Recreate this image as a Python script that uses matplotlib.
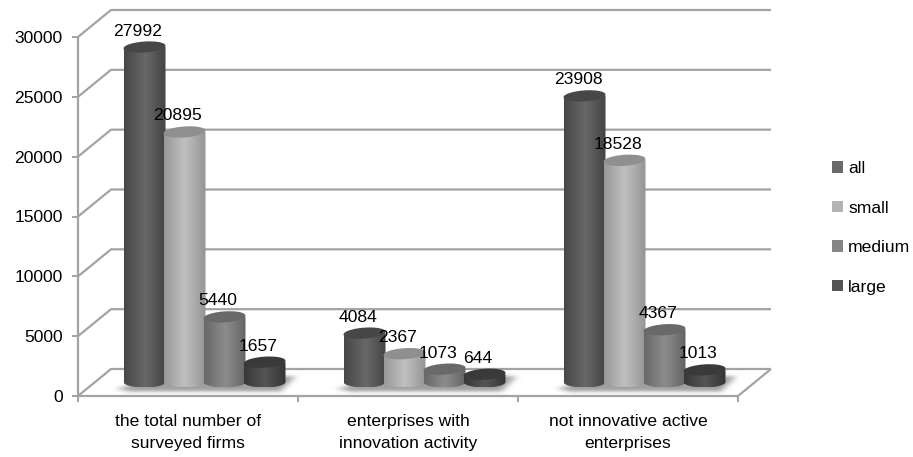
import numpy as np
import matplotlib
matplotlib.use("Agg")
import matplotlib.pyplot as plt
from matplotlib.patches import Polygon, Patch
from matplotlib.path import Path
from matplotlib.colors import LinearSegmentedColormap

categories = ["the total number of\nsurveyed firms",
              "enterprises with\ninnovation activity",
              "not innovative active\nenterprises"]
series_names = ["all", "small", "medium", "large"]
all_firms = [27992, 4084, 23908]
small = [20895, 2367, 18528]
medium = [5440, 1073, 4367]
large = [1657, 644, 1013]
y_ticks = [0, 5000, 10000, 15000, 20000, 25000, 30000]

W, H = 913, 457
L, R, T, B = 78, 738, 37, 396
plt.rcParams["font.family"] = ["Liberation Sans", "DejaVu Sans"]
FS = 12.6
fig = plt.figure(figsize=(W / 100, H / 100), dpi=100, facecolor="white")
ax = fig.add_axes([L / W, (H - B) / H, (R - L) / W, (B - T) / H])
ax.set_xlim(0, 3)
ax.set_ylim(0, 30000)
for s in ax.spines.values():
    s.set_visible(False)
px = 3 / (R - L)            # data x per pixel
py = 30000 / (B - T)        # data y per pixel
dx, dy = 33 * px, 27 * py   # chart depth

GRID = "#a3a3a3"
line = dict(color=GRID, lw=1.6, clip_on=False, solid_capstyle="butt", zorder=1)
for v in y_ticks:
    ax.plot([0, dx, 3 + dx], [v, v + dy, v + dy], **line)
ax.plot([0, 0], [0, 30000], **line)
ax.plot([0, 3], [0, 0], **line)
ax.plot([3, 3 + dx], [0, dy], **line)
ax.set_xticks([0, 1, 2, 3], labels=[])
ax.set_yticks(y_ticks)
ax.tick_params(axis="both", color=GRID, width=1.4, length=4, labelsize=FS)
ax.tick_params(axis="y", pad=7)
for i, c in enumerate(categories):
    ax.annotate(c, (i + 0.5, 0), xytext=(0, -18), textcoords="offset pixels",
                ha="center", va="top", fontsize=FS, linespacing=1.62)

pitch, width = 40 * px, 42 * px
base = 14 * py
erx, ery = width / 2, 5.5 * py
values = [all_firms, small, medium, large]
shades = [("#474747", "#686868", "#444444", "#474747"),
          ("#999999", "#c0c0c0", "#959595", "#8f8f8f"),
          ("#686868", "#8c8c8c", "#646464", "#696969"),
          ("#383838", "#555555", "#353535", "#3a3a3a")]
legend_cols = ["#696969", "#b3b3b3", "#858585", "#555555"]

# soft floor shadow under each group of cylinders, rasterised then blurred
nx, ny = 260, 50
gx, gy = np.meshgrid(np.arange(nx) - 130.0, np.arange(ny) - 25.0)
mask = Path([(-88, 5), (-60, -3), (90, -8), (76, 7), (-72, 8)]).contains_points(
    np.c_[gx.ravel(), gy.ravel()]).reshape(ny, nx).astype(float)
kernel = np.exp(-(np.arange(-12, 13) / 5.0) ** 2)
kernel /= kernel.sum()
mask = np.apply_along_axis(lambda r: np.convolve(r, kernel, "same"), 1, mask)
kernel_y = np.exp(-(np.arange(-6, 7) / 2.5) ** 2)
kernel_y /= kernel_y.sum()
mask = np.apply_along_axis(lambda r: np.convolve(r, kernel_y, "same"), 0, mask)
shadow = np.zeros((ny, nx, 4))
shadow[..., :3] = 0.5
shadow[..., 3] = mask * 0.75
for i in range(3):
    cx = i + 0.5 + dx / 2
    cy = 12.5 * py
    ax.imshow(shadow, extent=(cx - 130 * px, cx + 130 * px, cy - 25 * py, cy + 25 * py),
              origin="upper", aspect="auto", zorder=2, interpolation="bilinear")

z = 3
t = np.linspace(np.pi, 2 * np.pi, 40)
ta = np.linspace(0, 2 * np.pi, 80)
for j, vals in enumerate(values):
    cmap = LinearSegmentedColormap.from_list("c", shades[j][:3])
    x = np.arange(3) + 0.5 + dx / 2 + (j - 1.5) * pitch
    bars = ax.bar(x, vals, width, bottom=base, color=legend_cols[j], zorder=z, linewidth=0)
    for i, b in enumerate(bars):
        b.set_visible(False)
        x0, x1, y0, y1 = b.get_x(), b.get_x() + width, b.get_y(), b.get_y() + b.get_height()
        xc = (x0 + x1) / 2
        verts = np.r_[np.c_[xc + erx * np.cos(t), y0 + ery * np.sin(t)], [[x1, y1], [x0, y1], [x0, y0]]]
        im = ax.imshow(np.linspace(0, 1, 64)[None, :], cmap=cmap, aspect="auto",
                       extent=(x0, x1, y0 - ery, y1 + ery), zorder=z, interpolation="bilinear")
        im.set_clip_path(Polygon(verts, closed=True, transform=ax.transData))
        # top face, slightly tilted as in the reference
        top = np.c_[xc + erx * np.cos(ta), y1 + ery * np.sin(ta) + 0.25 * ery * np.cos(ta)]
        ax.add_patch(Polygon(top, closed=True, fc=shades[j][3], ec="none", zorder=z + 0.1))
        ax.annotate(str(vals[i]), (xc, y1), xytext=(-6.5, 16),
                    textcoords="offset pixels", ha="center", va="center",
                    fontsize=FS, zorder=20, annotation_clip=False)
    z += 1
ax.set_xlim(0, 3)
ax.set_ylim(0, 30000)

handles = [Patch(fc=c, ec="none") for c in legend_cols]
ax.legend(handles, series_names, loc="center left", bbox_to_anchor=(832 / W, (H - 228) / H),
          bbox_transform=fig.transFigure, frameon=False, fontsize=FS, labelspacing=1.4,
          handlelength=0.63, handleheight=0.63, handletextpad=0.3, borderpad=0, borderaxespad=0)
fig.savefig("out.png", dpi=100, facecolor="white")
